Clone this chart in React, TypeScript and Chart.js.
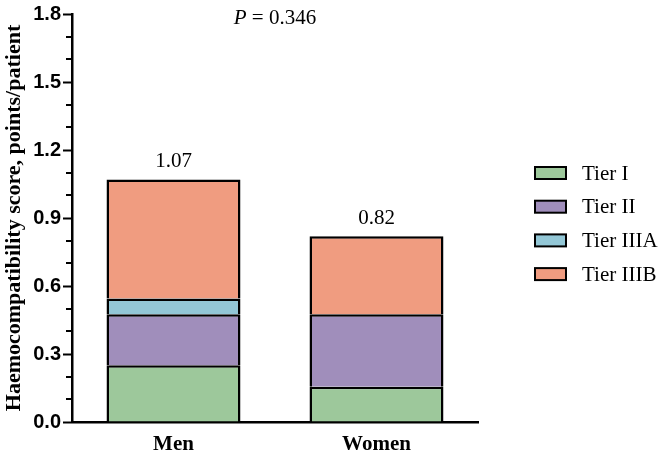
import React, { useEffect, useRef } from "react";
import { Chart, registerables } from "chart.js";

Chart.register(...registerables);

const categories = ["Men", "Women"];
const tierI = [0.25, 0.155];
const tierII = [0.225, 0.32];
const tierIIIA = [0.07, null];
const tierIIIB = [0.525, 0.345];
const totals = [1.07, 0.82];
const totalLabels = ["1.07", "0.82"];
const seriesNames = ["Tier I", "Tier II", "Tier IIIA", "Tier IIIB"];
const seriesColors = ["#9DC89B", "#A08EBB", "#93C7D6", "#F09C80"];
const yTitle = "Haemocompatibility score, points/patient";
const pValueText = " = 0.346";
const yMax = 1.8;
const yStep = 0.3;
const yMinorStep = 0.1;

const SERIF = "'Liberation Serif', 'Times New Roman', serif";
const SANS = "'Liberation Sans', Arial, sans-serif";

const overlayPlugin = {
  id: "overlay",
  afterDraw(chart: any) {
    const ctx = chart.ctx;
    const area = chart.chartArea;
    const yScale = chart.scales.y;
    const xScale = chart.scales.x;
    ctx.save();
    // minor ticks
    ctx.strokeStyle = "#000";
    ctx.lineWidth = 2;
    const nMinor = Math.round(yMax / yMinorStep);
    for (let k = 0; k <= nMinor; k++) {
      if (k % 3 === 0) continue;
      const py = Math.round(yScale.getPixelForValue(k * yMinorStep));
      ctx.beginPath();
      ctx.moveTo(area.left - 6, py);
      ctx.lineTo(area.left, py);
      ctx.stroke();
    }
    // totals
    ctx.fillStyle = "#000";
    ctx.font = `21px ${SERIF}`;
    ctx.textAlign = "center";
    ctx.textBaseline = "bottom";
    totals.forEach((t, i) => {
      const px = xScale.getPixelForValue(i);
      const py = yScale.getPixelForValue(t);
      ctx.fillText(totalLabels[i], px, py - 7);
    });
    // P value
    ctx.textBaseline = "middle";
    ctx.textAlign = "left";
    ctx.font = `italic 21px ${SERIF}`;
    const wP = ctx.measureText("P").width;
    ctx.font = `21px ${SERIF}`;
    const wRest = ctx.measureText(pValueText).width;
    const cx = (area.left + area.right) / 2;
    const startX = cx - (wP + wRest) / 2;
    ctx.font = `italic 21px ${SERIF}`;
    ctx.fillText("P", startX, 18);
    ctx.font = `21px ${SERIF}`;
    ctx.fillText(pValueText, startX + wP, 18);
    // legend
    const lx = area.right + 57;
    const tx = area.right + 104;
    chart.data.datasets.forEach((ds: any, i: number) => {
      const cy = area.top + 159 + i * 33.7;
      ctx.fillStyle = ds.backgroundColor;
      ctx.fillRect(lx, cy - 6, 31, 12);
      ctx.strokeStyle = "#000";
      ctx.lineWidth = 2;
      ctx.strokeRect(lx, cy - 6, 31, 12);
      ctx.fillStyle = "#000";
      ctx.font = `21px ${SERIF}`;
      ctx.textAlign = "left";
      ctx.textBaseline = "middle";
      ctx.fillText(ds.label, tx, cy + 1);
    });
    ctx.restore();
  },
};

export default function App() {
  const ref = useRef<HTMLCanvasElement | null>(null);
  useEffect(() => {
    if (!ref.current) return;
    const seriesData = [tierI, tierII, tierIIIA, tierIIIB];
    const chart = new Chart(ref.current, {
      type: "bar",
      data: {
        labels: categories,
        datasets: seriesNames.map((name, i) => ({
          label: name,
          data: seriesData[i],
          backgroundColor: seriesColors[i],
          borderColor: "#000",
          borderWidth: 2.5,
          borderSkipped: "bottom",
          barPercentage: 0.66,
          categoryPercentage: 1,
        })),
      },
      options: {
        animation: false,
        responsive: true,
        maintainAspectRatio: false,
        layout: { padding: { left: 0, right: 187, top: 0, bottom: 0 } },
        plugins: {
          legend: { display: false },
          tooltip: { enabled: false },
        },
        scales: {
          x: {
            stacked: true,
            grid: { display: false, drawTicks: false },
            border: { display: true, color: "#000", width: 2.5 },
            ticks: {
              color: "#000",
              padding: 10,
              font: { family: SERIF, weight: "bold", size: 21 },
            },
            afterFit: (s: any) => {
              s.height = 36;
            },
          },
          y: {
            stacked: true,
            min: 0,
            max: yMax,
            ticks: {
              stepSize: yStep,
              color: "#000",
              padding: 2,
              font: { family: SANS, weight: "bold", size: 20 },
              callback: (v: any) => Number(v).toFixed(1),
            },
            grid: {
              drawOnChartArea: false,
              drawTicks: true,
              tickLength: 9,
              tickWidth: 2,
              tickColor: "#000",
            },
            border: { display: true, color: "#000", width: 2.5 },
            title: {
              display: true,
              text: yTitle,
              color: "#000",
              font: { family: SERIF, weight: "bold", size: 22 },
              padding: { top: 1, bottom: 0 },
            },
            afterFit: (s: any) => {
              s.width = 72;
            },
          },
        },
      },
      plugins: [overlayPlugin],
    });
    return () => chart.destroy();
  }, []);
  return (
    <div style={{ position: "fixed", left: 0, top: 0, width: 665, height: 458, background: "#fff" }}>
      <canvas ref={ref} />
    </div>
  );
}
